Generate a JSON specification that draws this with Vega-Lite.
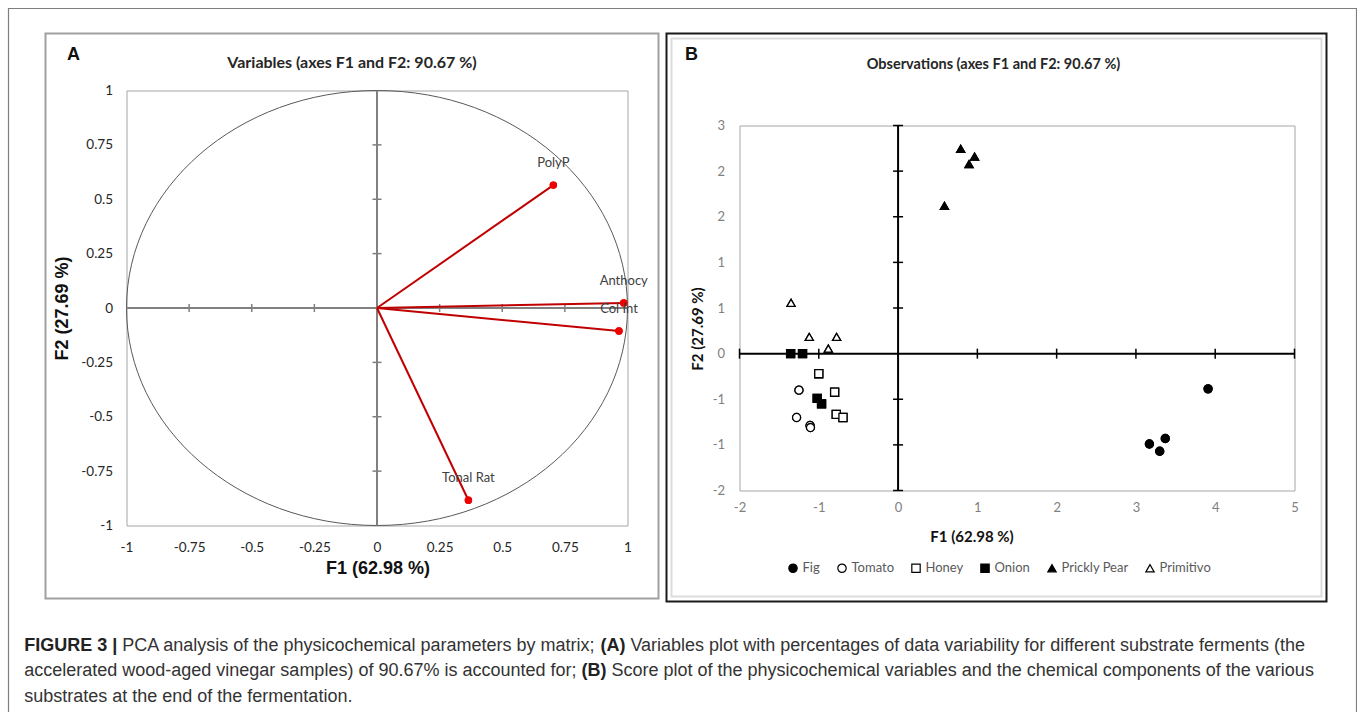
{
  "$schema": "https://vega.github.io/schema/vega-lite/v6.json",
  "background": "white",
  "padding": {"left": 6.5, "top": 6.5, "right": 0, "bottom": 0},
  "bounds": "flush",
  "center": true,
  "spacing": 112,
  "resolve": {"legend": {"fill": "independent", "shape": "independent", "stroke": "independent"}, "scale": {"fill": "independent", "shape": "independent", "stroke": "independent"}},
  "config": {"axis": {"grid": false}, "view": {"stroke": null}},
  "datasets": {
    "variables": [
      {"variable": "PolyP", "F1": 0.704, "F2": 0.565},
      {"variable": "Anthocy", "F1": 0.985, "F2": 0.023},
      {"variable": "Col Int", "F1": 0.966, "F2": -0.106},
      {"variable": "Tonal Rat", "F1": 0.365, "F2": -0.884}
    ],
    "observations": [
      {"series": "Fig", "F1": 3.91, "F2": -0.386},
      {"series": "Fig", "F1": 3.37, "F2": -0.93},
      {"series": "Fig", "F1": 3.17, "F2": -0.99},
      {"series": "Fig", "F1": 3.3, "F2": -1.07},
      {"series": "Tomato", "F1": -1.25, "F2": -0.4},
      {"series": "Tomato", "F1": -1.28, "F2": -0.7},
      {"series": "Tomato", "F1": -1.11, "F2": -0.787},
      {"series": "Tomato", "F1": -1.105, "F2": -0.81},
      {"series": "Honey", "F1": -1.0, "F2": -0.22},
      {"series": "Honey", "F1": -0.8, "F2": -0.423},
      {"series": "Honey", "F1": -0.78, "F2": -0.665},
      {"series": "Honey", "F1": -0.695, "F2": -0.7},
      {"series": "Onion", "F1": -1.355, "F2": 0.0},
      {"series": "Onion", "F1": -1.205, "F2": 0.0},
      {"series": "Onion", "F1": -1.02, "F2": -0.49},
      {"series": "Onion", "F1": -0.965, "F2": -0.55},
      {"series": "Prickly Pear", "F1": 0.79, "F2": 2.245},
      {"series": "Prickly Pear", "F1": 0.965, "F2": 2.16},
      {"series": "Prickly Pear", "F1": 0.895, "F2": 2.077},
      {"series": "Prickly Pear", "F1": 0.585, "F2": 1.62},
      {"series": "Primitivo", "F1": -1.35, "F2": 0.557},
      {"series": "Primitivo", "F1": -1.12, "F2": 0.183},
      {"series": "Primitivo", "F1": -0.775, "F2": 0.183},
      {"series": "Primitivo", "F1": -0.88, "F2": 0.055}
    ]
  },
  "hconcat": [
    {
      "width": 501,
      "height": 435,
      "view": {"stroke": "#a6a6a6", "strokeWidth": 1},
      "layer": [
        {
          "data": {"name": "variables"},
          "mark": {"type": "point", "filled": true, "color": "#ee0000", "size": 55, "opacity": 1},
          "encoding": {
            "x": {
              "field": "F1", "type": "quantitative",
              "scale": {"domain": [-1, 1], "nice": false, "zero": false},
              "axis": {
                "title": "F1 (62.98 %)",
                "values": [-1, -0.75, -0.5, -0.25, 0, 0.25, 0.5, 0.75, 1],
                "labelExpr": "'' + datum.value",
                "ticks": false, "domain": false, "grid": false,
                "labelFont": "Lato", "labelFontSize": 13.5, "labelColor": "#262626",
                "labelPadding": 15, "labelOverlap": false, "labelFlush": false,
                "titleFont": "Liberation Sans", "titleFontSize": 18, "titleFontWeight": "bold", "titleColor": "#111111",
                "titleX": 251, "titleY": 43, "titleBaseline": "middle", "titleAlign": "center"
              }
            },
            "y": {
              "field": "F2", "type": "quantitative",
              "scale": {"domain": [-1, 1], "nice": false, "zero": false},
              "axis": {
                "title": "F2 (27.69 %)",
                "values": [-1, -0.75, -0.5, -0.25, 0, 0.25, 0.5, 0.75, 1],
                "labelExpr": "'' + datum.value",
                "ticks": false, "domain": false, "grid": false,
                "labelFont": "Lato", "labelFontSize": 13.5, "labelColor": "#262626",
                "labelPadding": 14, "labelOverlap": false, "labelFlush": false,
                "titleFont": "Liberation Sans", "titleFontSize": 18, "titleFontWeight": "bold", "titleColor": "#111111",
                "titleX": -64, "titleY": 217.5, "titleBaseline": "middle", "titleAlign": "center", "titleAngle": -90
              }
            }
          }
        },
        {
          "data": {"values": [{}]},
          "mark": {"type": "rect", "fill": "transparent", "stroke": "#7f7f7f", "strokeWidth": 1.2},
          "encoding": {
            "x": {"datum": -1.47106, "type": "quantitative"}, "x2": {"datum": 3.91018},
            "y": {"datum": 1.37701, "type": "quantitative"}, "y2": {"datum": -2.08506}
          }
        },
        {
          "data": {"values": [{}]},
          "mark": {"type": "rect", "fill": "transparent", "stroke": "#a0a0a0", "strokeWidth": 2},
          "encoding": {
            "x": {"datum": -1.32335, "type": "quantitative"}, "x2": {"datum": 1.12375},
            "y": {"datum": 1.26207, "type": "quantitative"}, "y2": {"datum": -1.33563}
          }
        },
        {
          "data": {"values": [{}]},
          "mark": {"type": "point", "shape": "M-1.151724,0A1.151724,1,0,1,1,1.151724,0A1.151724,1,0,1,1,-1.151724,0Z", "size": 189225, "filled": false, "stroke": "#595959", "strokeWidth": 1, "opacity": 1},
          "encoding": {"x": {"datum": 0, "type": "quantitative"}, "y": {"datum": 0, "type": "quantitative"}}
        },
        {
          "data": {"values": [{}]},
          "mark": {"type": "rule", "color": "#808080", "strokeWidth": 2},
          "encoding": {"x": {"datum": -1, "type": "quantitative"}, "x2": {"datum": 1}, "y": {"datum": 0, "type": "quantitative"}}
        },
        {
          "data": {"values": [{}]},
          "mark": {"type": "rule", "color": "#808080", "strokeWidth": 2},
          "encoding": {"x": {"datum": 0, "type": "quantitative"}, "y": {"datum": -1, "type": "quantitative"}, "y2": {"datum": 1}}
        },
        {
          "data": {"values": [{"t": -0.75}, {"t": -0.5}, {"t": -0.25}, {"t": 0.25}, {"t": 0.5}, {"t": 0.75}]},
          "mark": {"type": "tick", "orient": "vertical", "size": 8, "thickness": 1.5, "color": "#808080", "opacity": 1},
          "encoding": {"x": {"field": "t", "type": "quantitative"}, "y": {"datum": 0, "type": "quantitative"}}
        },
        {
          "data": {"values": [{"t": -0.75}, {"t": -0.5}, {"t": -0.25}, {"t": 0.25}, {"t": 0.5}, {"t": 0.75}]},
          "mark": {"type": "tick", "orient": "horizontal", "size": 9, "thickness": 1.5, "color": "#808080", "opacity": 1},
          "encoding": {"y": {"field": "t", "type": "quantitative"}, "x": {"datum": 0, "type": "quantitative"}}
        },
        {
          "data": {"name": "variables"},
          "mark": {"type": "rule", "color": "#c00000", "strokeWidth": 2},
          "encoding": {
            "x": {"field": "F1", "type": "quantitative"}, "y": {"field": "F2", "type": "quantitative"},
            "x2": {"datum": 0}, "y2": {"datum": 0}
          }
        },
        {
          "data": {"name": "variables"},
          "mark": {"type": "point", "filled": true, "color": "#ee0000", "size": 55, "opacity": 1},
          "encoding": {"x": {"field": "F1", "type": "quantitative"}, "y": {"field": "F2", "type": "quantitative"}}
        },
        {
          "data": {"name": "variables"},
          "mark": {"type": "text", "dy": -22, "align": "center", "baseline": "middle", "font": "Lato", "fontSize": 13, "color": "#404040"},
          "encoding": {"x": {"field": "F1", "type": "quantitative"}, "y": {"field": "F2", "type": "quantitative"}, "text": {"field": "variable", "type": "nominal"}}
        },
        {
          "data": {"values": [{"t": "A"}]},
          "mark": {"type": "text", "align": "center", "baseline": "middle", "font": "Liberation Sans", "fontWeight": "bold", "fontSize": 18, "color": "#111111"},
          "encoding": {"x": {"datum": -1.2116, "type": "quantitative"}, "y": {"datum": 1.1655, "type": "quantitative"}, "text": {"field": "t", "type": "nominal"}}
        },
        {
          "data": {"values": [{"t": "Variables (axes F1 and F2: 90.67 %)"}]},
          "mark": {"type": "text", "align": "center", "baseline": "middle", "font": "Lato", "fontWeight": "bold", "fontSize": 16, "color": "#262626"},
          "encoding": {"x": {"datum": -0.0998, "type": "quantitative"}, "y": {"datum": 1.12414, "type": "quantitative"}, "text": {"field": "t", "type": "nominal"}}
        },
        {
          "data": {"values": [{"t": "FIGURE 3 |"}]},
          "mark": {"type": "text", "align": "left", "baseline": "middle", "font": "Liberation Sans", "fontWeight": "bold", "fontSize": 18, "color": "#222222"},
          "encoding": {"x": {"datum": -1.40838, "type": "quantitative"}, "y": {"datum": -1.55632, "type": "quantitative"}, "text": {"field": "t", "type": "nominal"}}
        },
        {
          "data": {"values": [{"t": "PCA analysis of the physicochemical parameters by matrix;"}]},
          "mark": {"type": "text", "align": "left", "baseline": "middle", "dx": 98.1, "font": "Liberation Sans", "fontSize": 18, "color": "#333333"},
          "encoding": {"x": {"datum": -1.40838, "type": "quantitative"}, "y": {"datum": -1.55632, "type": "quantitative"}, "text": {"field": "t", "type": "nominal"}}
        },
        {
          "data": {"values": [{"t": "(A)"}]},
          "mark": {"type": "text", "align": "left", "baseline": "middle", "dx": 576.2, "font": "Liberation Sans", "fontWeight": "bold", "fontSize": 18, "color": "#222222"},
          "encoding": {"x": {"datum": -1.40838, "type": "quantitative"}, "y": {"datum": -1.55632, "type": "quantitative"}, "text": {"field": "t", "type": "nominal"}}
        },
        {
          "data": {"values": [{"t": "Variables plot with percentages of data variability for different substrate ferments (the"}]},
          "mark": {"type": "text", "align": "left", "baseline": "middle", "dx": 606.2, "font": "Liberation Sans", "fontSize": 18, "color": "#333333"},
          "encoding": {"x": {"datum": -1.40838, "type": "quantitative"}, "y": {"datum": -1.55632, "type": "quantitative"}, "text": {"field": "t", "type": "nominal"}}
        },
        {
          "data": {"values": [{"t": "accelerated wood-aged vinegar samples) of 90.67% is accounted for;"}]},
          "mark": {"type": "text", "align": "left", "baseline": "middle", "font": "Liberation Sans", "fontSize": 18, "color": "#333333"},
          "encoding": {"x": {"datum": -1.40838, "type": "quantitative"}, "y": {"datum": -1.67126, "type": "quantitative"}, "text": {"field": "t", "type": "nominal"}}
        },
        {
          "data": {"values": [{"t": "(B)"}]},
          "mark": {"type": "text", "align": "left", "baseline": "middle", "dx": 557.3, "font": "Liberation Sans", "fontWeight": "bold", "fontSize": 18, "color": "#222222"},
          "encoding": {"x": {"datum": -1.40838, "type": "quantitative"}, "y": {"datum": -1.67126, "type": "quantitative"}, "text": {"field": "t", "type": "nominal"}}
        },
        {
          "data": {"values": [{"t": "Score plot of the physicochemical variables and the chemical components of the various"}]},
          "mark": {"type": "text", "align": "left", "baseline": "middle", "dx": 587.3, "font": "Liberation Sans", "fontSize": 18, "color": "#333333"},
          "encoding": {"x": {"datum": -1.40838, "type": "quantitative"}, "y": {"datum": -1.67126, "type": "quantitative"}, "text": {"field": "t", "type": "nominal"}}
        },
        {
          "data": {"values": [{"t": "substrates at the end of the fermentation."}]},
          "mark": {"type": "text", "align": "left", "baseline": "middle", "font": "Liberation Sans", "fontSize": 18, "color": "#333333"},
          "encoding": {"x": {"datum": -1.40838, "type": "quantitative"}, "y": {"datum": -1.78621, "type": "quantitative"}, "text": {"field": "t", "type": "nominal"}}
        }
      ]
    },
    {
      "width": 555,
      "height": 365,
      "view": {"stroke": "#a6a6a6", "strokeWidth": 1},
      "layer": [
        {
          "data": {"name": "observations"},
          "mark": {"type": "point", "strokeWidth": 1.3, "size": 65, "opacity": 1, "fillOpacity": 1},
          "encoding": {
            "x": {
              "field": "F1", "type": "quantitative",
              "scale": {"domain": [-2, 5], "nice": false, "zero": false},
              "axis": {
                "title": "F1 (62.98 %)",
                "values": [-2, -1, 0, 1, 2, 3, 4, 5],
                "labelExpr": "'' + datum.value",
                "ticks": false, "domain": false, "grid": false,
                "labelFont": "Lato", "labelFontSize": 13, "labelColor": "#808080",
                "labelPadding": 11, "labelOverlap": false, "labelFlush": false,
                "titleFont": "Lato", "titleFontSize": 15, "titleFontWeight": "bold", "titleColor": "#111111",
                "titleX": 232, "titleY": 46, "titleBaseline": "middle", "titleAlign": "center"
              }
            },
            "y": {
              "field": "F2", "type": "quantitative",
              "scale": {"domain": [-1.5, 2.5], "nice": false, "zero": false},
              "axis": {
                "title": "F2 (27.69 %)",
                "values": [-1.5, -1, -0.5, 0, 0.5, 1, 1.5, 2, 2.5],
                "labelExpr": "datum.value < 0 ? '-' + round(-datum.value) : '' + round(datum.value)",
                "ticks": false, "domain": false, "grid": false,
                "labelFont": "Lato", "labelFontSize": 13, "labelColor": "#808080",
                "labelPadding": 15, "labelOverlap": false, "labelFlush": false,
                "titleFont": "Lato", "titleFontSize": 15, "titleFontWeight": "bold", "titleColor": "#111111",
                "titleX": -42, "titleY": 203, "titleBaseline": "middle", "titleAlign": "center", "titleAngle": -90
              }
            },
            "fill": {
              "field": "series", "type": "nominal",
              "scale": {"domain": ["Fig", "Tomato", "Honey", "Onion", "Prickly Pear", "Primitivo"], "range": ["#000000", "#ffffff", "#ffffff", "#000000", "#000000", "#ffffff"]},
              "legend": {"title": null, "orient": "none", "legendX": 47, "legendY": 436, "direction": "horizontal", "symbolSize": 70, "symbolStrokeWidth": 1.2, "labelFont": "Lato", "labelFontSize": 13, "labelColor": "#595959", "labelOffset": 3, "columnPadding": 14, "padding": 0}
            },
            "stroke": {
              "field": "series", "type": "nominal",
              "scale": {"domain": ["Fig", "Tomato", "Honey", "Onion", "Prickly Pear", "Primitivo"], "range": ["#000000", "#000000", "#000000", "#000000", "#000000", "#000000"]},
              "legend": {"title": null, "orient": "none", "legendX": 47, "legendY": 436, "direction": "horizontal", "symbolSize": 70, "symbolStrokeWidth": 1.2, "labelFont": "Lato", "labelFontSize": 13, "labelColor": "#595959", "labelOffset": 3, "columnPadding": 14, "padding": 0}
            },
            "shape": {
              "field": "series", "type": "nominal",
              "scale": {"domain": ["Fig", "Tomato", "Honey", "Onion", "Prickly Pear", "Primitivo"], "range": ["circle", "circle", "square", "square", "triangle-up", "triangle-up"]},
              "legend": {"title": null, "orient": "none", "legendX": 47, "legendY": 436, "direction": "horizontal", "symbolSize": 70, "symbolStrokeWidth": 1.2, "labelFont": "Lato", "labelFontSize": 13, "labelColor": "#595959", "labelOffset": 3, "columnPadding": 14, "padding": 0}
            }
          }
        },
        {
          "data": {"values": [{}]},
          "mark": {"type": "rect", "fill": "transparent", "stroke": "#1a1a1a", "strokeWidth": 2},
          "encoding": {
            "x": {"datum": -2.92072, "type": "quantitative"}, "x2": {"datum": 5.4036},
            "y": {"datum": 3.50822, "type": "quantitative"}, "y2": {"datum": -2.71644}
          }
        },
        {
          "data": {"values": [{}]},
          "mark": {"type": "rect", "fill": "transparent", "stroke": "#dcdcdc", "strokeWidth": 2},
          "encoding": {
            "x": {"datum": -2.85766, "type": "quantitative"}, "x2": {"datum": 5.34054},
            "y": {"datum": 3.45342, "type": "quantitative"}, "y2": {"datum": -2.66164}
          }
        },
        {
          "data": {"values": [{}]},
          "mark": {"type": "rule", "color": "#000000", "strokeWidth": 2},
          "encoding": {"x": {"datum": -2, "type": "quantitative"}, "x2": {"datum": 5}, "y": {"datum": 0, "type": "quantitative"}}
        },
        {
          "data": {"values": [{}]},
          "mark": {"type": "rule", "color": "#000000", "strokeWidth": 2},
          "encoding": {"x": {"datum": 0, "type": "quantitative"}, "y": {"datum": -1.5, "type": "quantitative"}, "y2": {"datum": 2.5}}
        },
        {
          "data": {"values": [{"t": -2}, {"t": -1}, {"t": 1}, {"t": 2}, {"t": 3}, {"t": 4}, {"t": 5}]},
          "mark": {"type": "tick", "orient": "vertical", "size": 10, "thickness": 1.5, "color": "#000000", "opacity": 1},
          "encoding": {"x": {"field": "t", "type": "quantitative"}, "y": {"datum": 0, "type": "quantitative"}}
        },
        {
          "data": {"values": [{"t": -1.5}, {"t": -1}, {"t": -0.5}, {"t": 0.5}, {"t": 1}, {"t": 1.5}, {"t": 2}, {"t": 2.5}]},
          "mark": {"type": "tick", "orient": "horizontal", "size": 10, "thickness": 1.5, "color": "#000000", "opacity": 1},
          "encoding": {"y": {"field": "t", "type": "quantitative"}, "x": {"datum": 0, "type": "quantitative"}}
        },
        {
          "data": {"name": "observations"},
          "mark": {"type": "point", "strokeWidth": 1.3, "size": 65, "opacity": 1, "fillOpacity": 1},
          "encoding": {
            "x": {"field": "F1", "type": "quantitative"},
            "y": {"field": "F2", "type": "quantitative"},
            "fill": {"field": "series", "type": "nominal"},
            "stroke": {"field": "series", "type": "nominal"},
            "shape": {"field": "series", "type": "nominal"}
          }
        },
        {
          "data": {"values": [{"t": "B"}]},
          "mark": {"type": "text", "align": "center", "baseline": "middle", "font": "Liberation Sans", "fontWeight": "bold", "fontSize": 18, "color": "#111111"},
          "encoding": {"x": {"datum": -2.6054, "type": "quantitative"}, "y": {"datum": 3.27808, "type": "quantitative"}, "text": {"field": "t", "type": "nominal"}}
        },
        {
          "data": {"values": [{"t": "Observations (axes F1 and F2: 90.67 %)"}]},
          "mark": {"type": "text", "align": "center", "baseline": "middle", "font": "Lato", "fontWeight": "bold", "fontSize": 14.5, "color": "#262626"},
          "encoding": {"x": {"datum": 1.2036, "type": "quantitative"}, "y": {"datum": 3.16849, "type": "quantitative"}, "text": {"field": "t", "type": "nominal"}}
        }
      ]
    }
  ]
}
